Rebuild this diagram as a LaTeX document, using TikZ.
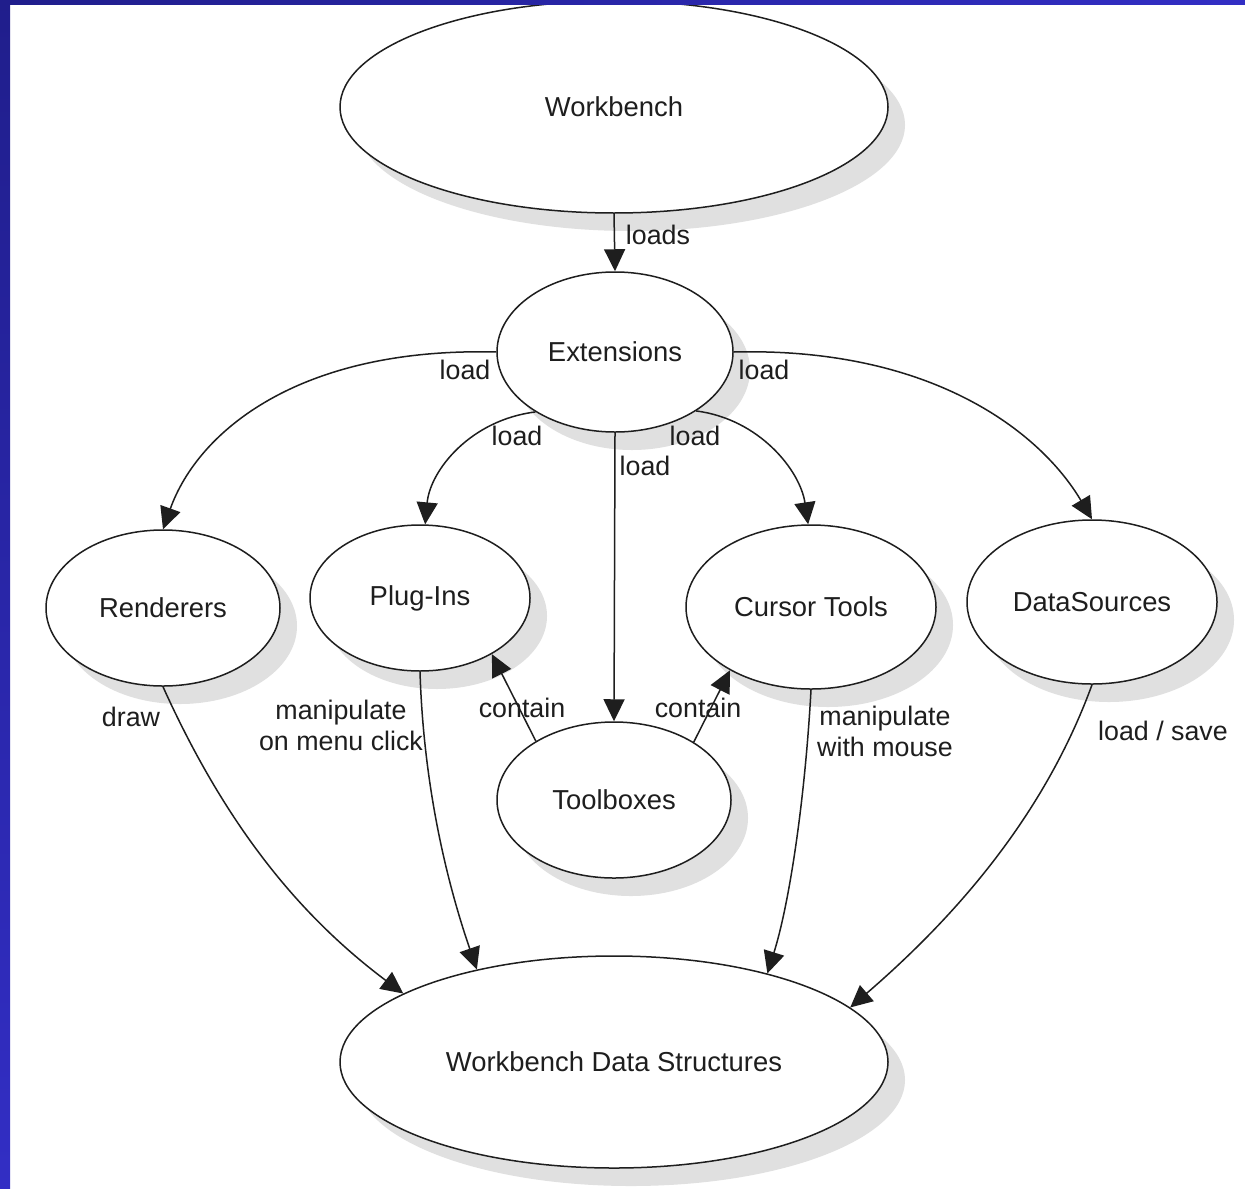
\documentclass[tikz,border=0pt]{standalone}
\usepackage{fontspec}
\setmainfont{Liberation Sans}
\usetikzlibrary{arrows.meta,shapes.geometric,shadows}
\definecolor{bordA}{RGB}{32,30,140}
\definecolor{bordB}{RGB}{50,46,196}
\definecolor{ink}{RGB}{30,30,30}
\begin{document}
\begin{tikzpicture}[x=0.5pt,y=-0.5pt,
  ell/.style={ellipse, draw=ink, line width=0.75pt, fill=white, inner sep=0pt,
    font=\fontsize{13.7}{16}\selectfont, text=ink,
    drop shadow={shadow xshift=8.5pt, shadow yshift=-9pt, fill=black!12, opacity=1}},
  lbl/.style={font=\fontsize{13.4}{15.5}\selectfont, text=ink, inner sep=0pt, align=center},
  conn/.style={draw=ink, line width=0.75pt, -{Triangle[length=11pt,width=10.5pt]}}]
\useasboundingbox (0,0) rectangle (1245,1188);
\fill[white] (0,0) rectangle (1245,1188);

% nodes
\node[ell, minimum width=274pt, minimum height=106pt] (wb)   at (614,107)  {Workbench};
\node[ell, minimum width=118pt, minimum height=80pt]  (ext)  at (615,352)  {Extensions};
\node[ell, minimum width=117pt, minimum height=78pt]  (ren)  at (163,608)  {Renderers};
\node[ell, minimum width=110pt, minimum height=73pt]  (plug) at (420,598)  {Plug-Ins};
\node[ell, minimum width=125pt, minimum height=82pt]  (cur)  at (811,607)  {Cursor Tools};
\node[ell, minimum width=125pt, minimum height=82pt]  (ds)   at (1092,602) {DataSources};
\node[ell, minimum width=117pt, minimum height=78pt]  (tool) at (614,800)  {Toolboxes};
\node[ell, minimum width=274pt, minimum height=106pt] (wds)  at (614,1062) {Workbench Data Structures};

% connectors
\draw[conn] (wb.south) -- (ext.north);
\draw[conn] (ext.180) .. controls +(-197,-5) and +(35,-98) .. (ren.north);
\draw[conn] (ext.0) .. controls +(197,-5) and +(-52,-88) .. (ds.north);
\draw[conn] (ext.217) .. controls +(-65,8) and +(5,-54) .. (plug.86);
\draw[conn] (ext.324) .. controls +(63,8) and +(-8,-54) .. (cur.92);
\draw[conn] (ext.south) -- (tool.north);
\draw[conn] (tool.143) -- (plug.322);
\draw[conn] (tool.36) -- (cur.218.5);
\draw[conn] (ren.south) .. controls +(65,144) and +(-100,-75) .. (wds.162.6);
\draw[conn] (plug.south) .. controls +(4,129) and +(-24,-70) .. (wds.146.7);
\draw[conn] (cur.south) .. controls +(-6,110) and +(22,-70) .. (wds.30.9);
\draw[conn] (ds.south) .. controls +(-42,115) and +(123,-106) .. (wds.13);

% labels
\node[lbl] (l1)  at (658,235) {loads};
\node[lbl] (l2)  at (465,370) {load};
\node[lbl] (l3)  at (764,370) {load};
\node[lbl] (l4)  at (517,436) {load};
\node[lbl] (l5)  at (695,436) {load};
\node[lbl] (l6)  at (645,466) {load};
\node[lbl] (l7)  at (522,708) {contain};
\node[lbl] (l8)  at (698,708) {contain};
\node[lbl] (l9)  at (131,717) {draw};
\node[lbl] (l10) at (341,725) {manipulate\\on menu click};
\node[lbl] (l11) at (885,731) {manipulate\\with mouse};
\node[lbl] (l12) at (1163,731) {load / save};

% border
\shade[top color=bordA, bottom color=bordB] (0,0) rectangle (10,1188);
\shade[left color=bordA, right color=bordB] (0,0) rectangle (1245,5);
\end{tikzpicture}
\end{document}
